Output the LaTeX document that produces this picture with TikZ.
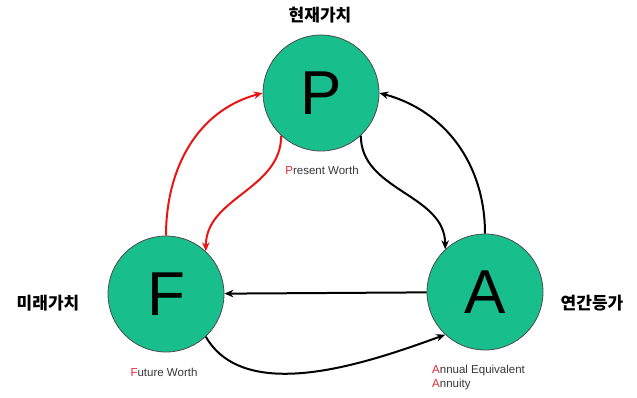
\documentclass[tikz,border=0pt]{standalone}
\usepackage{fontspec}
\usepackage{xcolor}
\usepackage{tikz}
\usetikzlibrary{arrows.meta}
\setmainfont{Liberation Sans}
\newfontfamily\kr{Noto Sans CJK KR}
\definecolor{valgreen}{RGB}{24,190,140}
\definecolor{wordgray}{RGB}{55,55,55}
\definecolor{initred}{RGB}{225,40,50}
\definecolor{linkred}{RGB}{235,20,20}
\tikzset{
  value/.style={circle,draw=black!70,line width=0.8pt,fill=valgreen,
    minimum size=116pt,inner sep=0pt,font=\fontsize{62}{62}\selectfont},
  title/.style={font=\kr\bfseries\fontsize{17}{17}\selectfont},
  worth/.style={font=\fontsize{11.5}{13.5}\selectfont,text=wordgray,inner sep=0pt},
  flow/.style={line width=2pt,-{Stealth[length=9pt,width=7.5pt]}}
}
\newcommand{\ini}[1]{\textcolor{initred}{#1}}

\begin{document}
\begin{tikzpicture}[x=1pt,y=-1pt]
\useasboundingbox (0,0) rectangle (637,397);
\node[value] (P) at (321,93) {P};
\node[value] (F) at (166,294) {F};
\node[value] (A) at (485,292) {A};
\node[title] (Ptitle) at (320,15) {현재가치};
\node[title] (Ftitle) at (48,303) {미래가치};
\node[title] (Atitle) at (592,303) {연간등가};
\node[worth] (Pword) at (322,170) {\ini{P}resent Worth};
\node[worth] (Fword) at (164,372) {\ini{F}uture Worth};
\node[worth,align=left,anchor=north west] (Aword) at (432,365)
  {\ini{A}nnual Equivalent\\\ini{A}nnuity};
% red pair between F and P
\draw[flow,linkred] (F.north) to[out=90,in=195] (P.west);
\draw[flow,linkred] (P.227) to[out=270,in=90] (F.47);
% black arrows around A
\draw[flow] (P.313) to[out=270,in=90] (A.133);
\draw[flow] (A.north) to[out=90,in=-15] (P.east);
\draw[flow] (A) -- (F);
\draw[flow] (F.-47) to[out=-60,in=200,looseness=0.85] (A.227);
\end{tikzpicture}
\end{document}
